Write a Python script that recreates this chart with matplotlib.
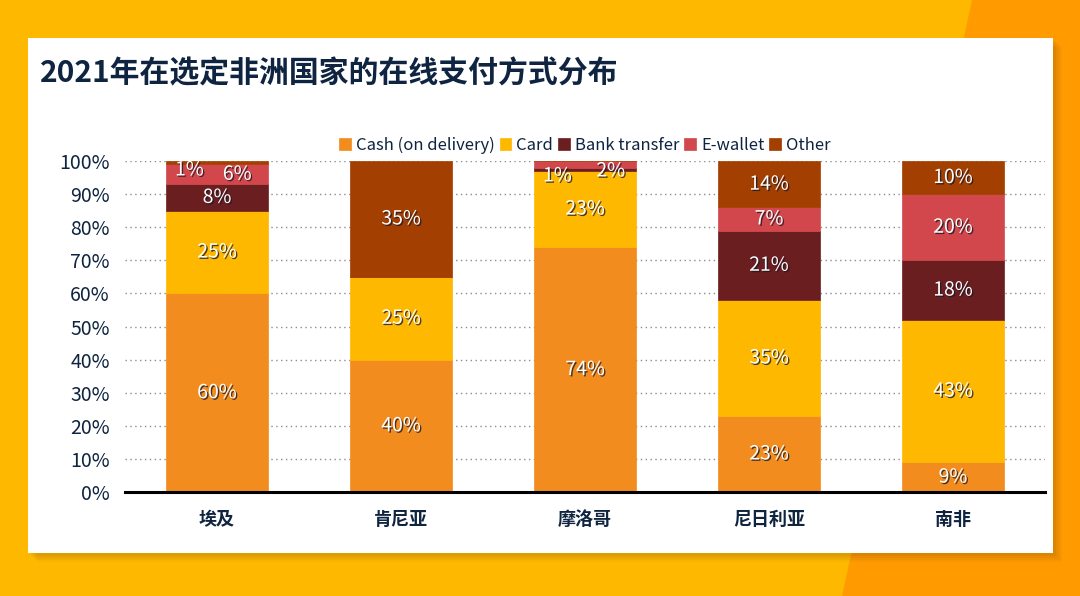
import matplotlib.pyplot as plt
import matplotlib.patches as patches
import matplotlib.patheffects as pe
import numpy as np

plt.rcParams['font.family'] = ['Noto Sans CJK SC', 'DejaVu Sans']

# Dados
paises = ["埃及", "肯尼亚", "摩洛哥", "尼日利亚", "南非"]
series = ["Cash (on delivery)", "Card", "Bank transfer", "E-wallet", "Other"]
cash = [60, 40, 74, 23, 9]
card = [25, 25, 23, 35, 43]
bank = [8, 0, 1, 21, 18]
ewallet = [6, 0, 2, 7, 20]
other = [1, 35, 0, 14, 10]
valores = [cash, card, bank, ewallet, other]
titulo = "2021年在选定非洲国家的在线支付方式分布"
yticks = [0, 10, 20, 30, 40, 50, 60, 70, 80, 90, 100]

cores = ["#F28C1E", "#FFB800", "#6B1E20", "#D2474B", "#A33F00"]
navy = "#0F2440"

# Deslocamento dos rótulos pequenos (pais, serie): (dx, dy)
desloc = {(0, 4): (-0.15, -2.2), (0, 3): (0.11, 0.0),
          (2, 2): (-0.15, -2.0), (2, 3): (0.14, -2.0)}

W, H = 1080, 596
fig = plt.figure(figsize=(W / 100, H / 100), dpi=100)
fig.patch.set_facecolor("#FFB800")

def fx(px):
    return px / W

def fy(py):
    return 1 - py / H

# Fundo laranja à direita
poly = patches.Polygon([(fx(972), fy(0)), (1, fy(0)), (1, 0), (fx(842), 0)],
                       closed=True, transform=fig.transFigure,
                       facecolor="#FF9A00", edgecolor="none", zorder=0)
fig.patches.append(poly)

# Sombra do cartão
for k, a in enumerate([0.05, 0.06, 0.07, 0.08]):
    off = 9 - 2 * k
    sh = patches.Rectangle((fx(28 + off), fy(553 + off)), fx(1025), 515 / H,
                           transform=fig.transFigure, facecolor="#7a4a00",
                           alpha=a, edgecolor="none", zorder=0.5)
    fig.patches.append(sh)

# Cartão branco
card_bg = patches.Rectangle((fx(28), fy(553)), fx(1025), 515 / H,
                            transform=fig.transFigure, facecolor="white",
                            edgecolor="none", zorder=1)
fig.patches.append(card_bg)

fig.text(fx(40), fy(73), titulo, fontsize=21.5, color=navy, va="center",
         ha="left", fontweight="bold", zorder=3)

ax = fig.add_axes([fx(125), fy(492), fx(920), (492 - 161) / H])
ax.set_facecolor("none")
ax.set_zorder(2)

x = np.arange(len(paises))
largura = 0.554
base = np.zeros(len(paises))
for s, (nome, vals) in enumerate(zip(series, valores)):
    vals = np.array(vals, dtype=float)
    ax.bar(x, vals, largura, bottom=base, color=cores[s], label=nome,
           edgecolor=cores[s], linewidth=0.5, zorder=2)
    for i, v in enumerate(vals):
        if v <= 0:
            continue
        dx, dy = desloc.get((i, s), (0, 0))
        ax.text(x[i] + dx, base[i] + v / 2 + dy, f"{int(v)}%",
                ha="center", va="center", color="white", fontsize=14,
                zorder=4,
                path_effects=[pe.withSimplePatchShadow(offset=(1, -1),
                                                       shadow_rgbFace="#1a1a2a",
                                                       alpha=0.8)])
    base += vals

ax.set_xlim(-0.5, len(paises) - 0.5)
ax.set_ylim(0, 100)
ax.set_yticks(yticks)
ax.set_yticklabels([f"{t}%" for t in yticks], fontsize=14, color=navy)
ax.set_xticks(x)
ax.set_xticklabels(paises, fontsize=13, color=navy, fontweight="bold")
ax.tick_params(axis="both", length=0)
ax.tick_params(axis="y", pad=11)
ax.tick_params(axis="x", pad=13)
for sp in ax.spines.values():
    sp.set_visible(False)
ax.grid(axis="y", linestyle=(0, (1, 2.5)), color="#8c8c8c", linewidth=1, zorder=0)
ax.set_axisbelow(True)
ax.axhline(0, color="black", linewidth=2.2, zorder=5, clip_on=False)

leg = ax.legend(loc="center", bbox_to_anchor=(fx(585), fy(145)),
                bbox_transform=fig.transFigure, ncol=5, frameon=False,
                fontsize=12, handlelength=0.7, handleheight=0.7,
                handletextpad=0.3, columnspacing=0.3)
for t in leg.get_texts():
    t.set_color(navy)

fig.savefig("out.png", dpi=100, facecolor=fig.get_facecolor())
